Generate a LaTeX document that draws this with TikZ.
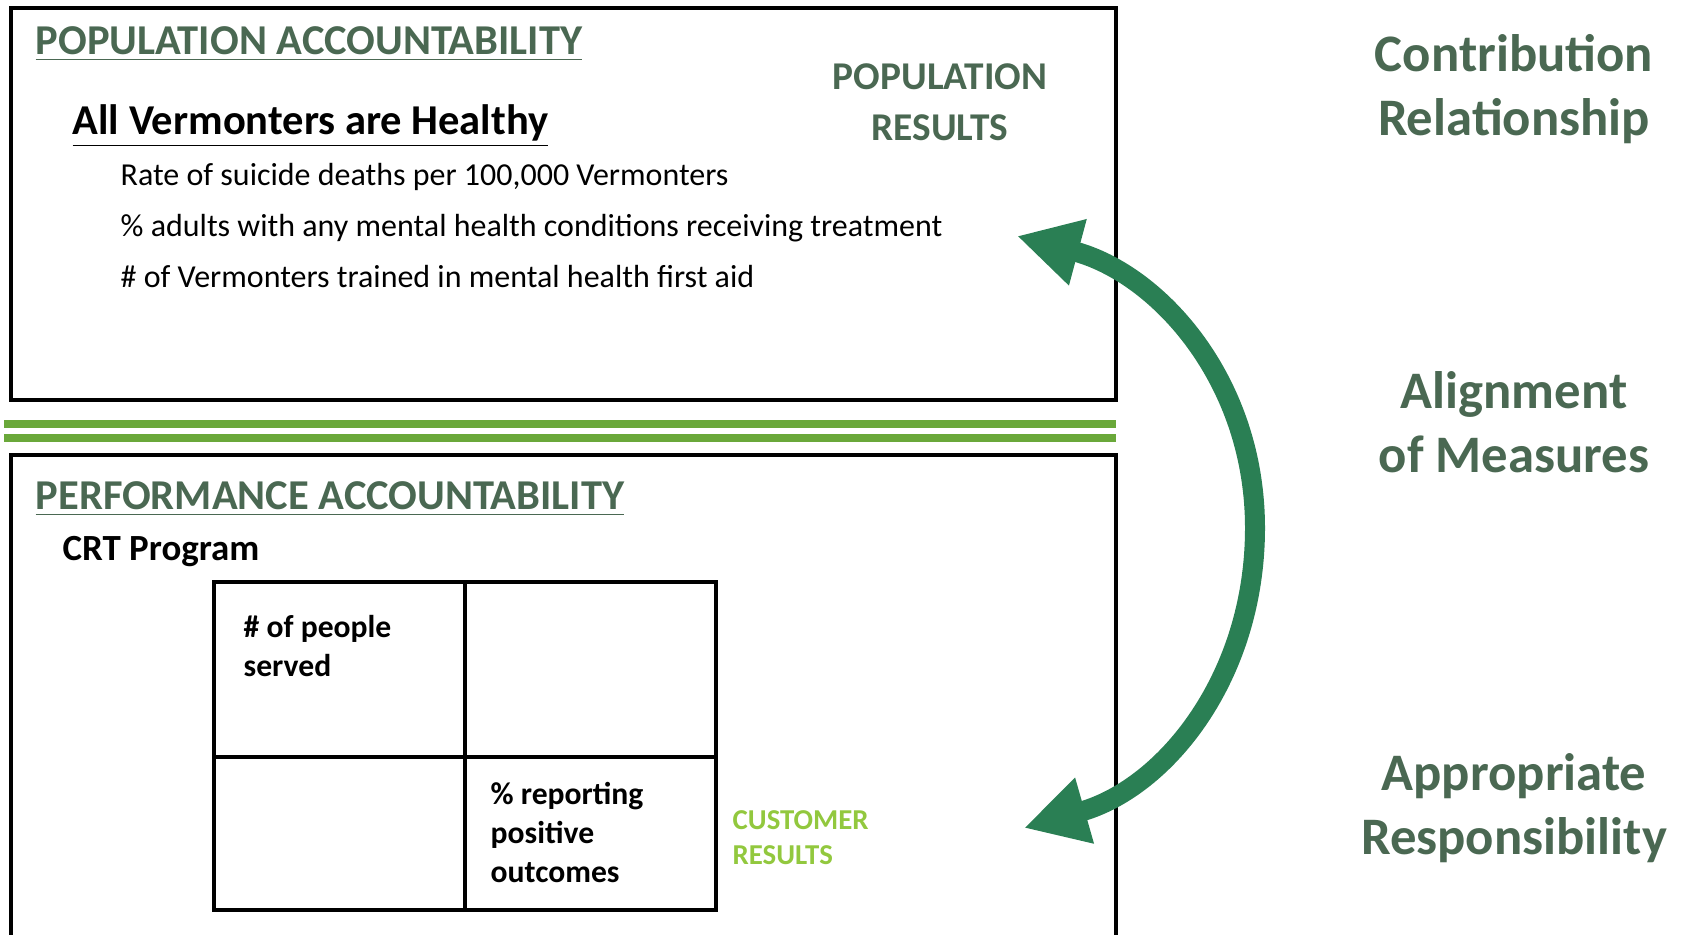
\documentclass[tikz,border=0pt]{standalone}
\usepackage{fontspec}
\setmainfont{Carlito}
\usetikzlibrary{arrows.meta}
\definecolor{titlegreen}{HTML}{4A6852}
\definecolor{arrowgreen}{HTML}{2A7F54}
\definecolor{linegreen}{HTML}{6AA83A}
\definecolor{custgreen}{HTML}{92C83E}
\begin{document}
\begin{tikzpicture}[x=0.1mm, y=0.1mm,
    heading/.style={anchor=west, inner sep=0pt, text=titlegreen, font=\fontsize{12.1}{14}\selectfont\bfseries},
    measure/.style={anchor=west, inner sep=0pt, font=\fontsize{9.1}{11}\selectfont},
    sidelabel/.style={align=center, inner sep=0pt, text=titlegreen, font=\fontsize{15}{18.2}\selectfont\bfseries},
    cell/.style={anchor=north west, align=left, inner sep=0pt, font=\fontsize{9}{11}\selectfont\bfseries},
    boxline/.style={draw, line width=1.1pt},
    bigarrow/.style={draw=arrowgreen, line width=2mm, arrows={Triangle[length=6.3mm,width=6.4mm]-Triangle[length=6.3mm,width=6.4mm]}}]
            \useasboundingbox (0,0) rectangle (1681,935);

            % Riquadri
            \draw[boxline] (11,927) rectangle (1116,535);
            \draw[boxline] (11,-20) rectangle (1116,480);
            \draw[linegreen, line width=0.8mm] (4,511) -- (1116,511);
            \draw[linegreen, line width=0.8mm] (4,497) -- (1116,497);

            % Popolazione
            \node[heading] (popHead) at (35,891) {\underline{POPULATION ACCOUNTABILITY}};
            \node[anchor=west, inner sep=0pt, font=\fontsize{12.1}{14}\selectfont\bfseries] (goal) at (72,809) {\underline{All Vermonters are Healthy}};
            \node[measure] (m1) at (120,758) {Rate of suicide deaths per 100,000 Vermonters};
            \node[measure] (m2) at (120,707) {\% adults with any mental health conditions receiving treatment};
            \node[measure] (m3) at (120,658) {\# of Vermonters trained in mental health first aid};
            \node[sidelabel, font=\fontsize{11.2}{14.5}\selectfont\bfseries] (popRes) at (940,833) {POPULATION\\RESULTS};

            % Performance
            \node[heading] (perfHead) at (35,436) {\underline{PERFORMANCE ACCOUNTABILITY}};
            \node[anchor=west, inner sep=0pt, font=\fontsize{10.5}{12}\selectfont\bfseries] (prog) at (62,383) {CRT Program};
            \draw[line width=1.3pt] (214,353) rectangle (716,25);
            \draw[line width=1.3pt] (465,353) -- (465,25);
            \draw[line width=1.3pt] (214,178) -- (716,178);
            \node[cell] (served) at (243,320) {\# of people\\served};
            \node[cell] (outcomes) at (490,153) {\% reporting\\positive\\outcomes};
            \node[cell, text=custgreen, font=\fontsize{8.2}{10}\selectfont\bfseries] (custRes) at (732,125) {CUSTOMER\\RESULTS};

            % Etichette a destra
            \node[sidelabel] (contrib) at (1514,846) {Contribution\\Relationship};
            \node[sidelabel] (align) at (1514,513) {Alignment\\of Measures};
            \node[sidelabel] (resp) at (1514,127) {Appropriate\\Responsibility};

            % Freccia
            \coordinate (popEnd) at (1017,699);
            \coordinate (arcMid) at (1255,407);
            \coordinate (custEnd) at (1024,107);
            \draw[bigarrow] (popEnd) to[out=-15, in=90] (arcMid) to[out=-90, in=16] (custEnd);
        \end{tikzpicture}
\end{document}
